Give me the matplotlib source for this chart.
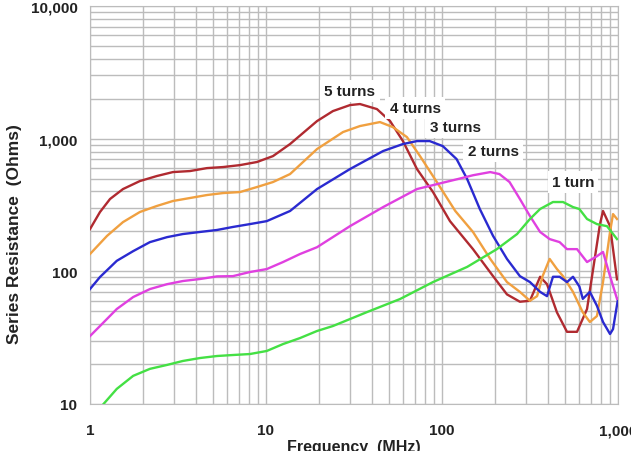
import matplotlib
matplotlib.use("Agg")
import matplotlib.pyplot as plt
from matplotlib.ticker import FixedLocator, FixedFormatter, NullFormatter, LogLocator

plt.rcParams['font.family'] = ['Liberation Sans', 'DejaVu Sans']
plt.rcParams['font.weight'] = 'bold'

# Frequency (MHz) / series resistance (Ohms)
f5 = [1, 1.14, 1.30, 1.54, 1.92, 2.40, 2.96, 3.70, 4.62, 5.70, 7.12, 8.89, 10.96, 13.7,
      19.5, 24.0, 30.0, 34.2, 42.7, 50.7, 60.0, 72.1, 88.9, 111, 150, 195, 234, 277, 316,
      361, 395, 450, 513, 585, 667, 790, 822, 901, 987]
r5 = [208, 280, 351, 417, 479, 523, 560, 570, 600, 611, 632, 667, 739, 911,
      1357, 1614, 1791, 1824, 1671, 1357, 959, 590, 396, 239, 147, 92, 67, 59, 60,
      91, 80, 49, 35, 35, 52, 227, 285, 219, 87]

f4 = [1, 1.25, 1.54, 1.92, 2.40, 2.96, 3.70, 4.62, 5.70, 7.12, 8.89, 10.96, 13.7, 19.5,
      27.4, 34.2, 44.4, 52.6, 63.2, 75.0, 93.5, 119, 150, 188, 234, 277, 316, 347, 373,
      409, 450, 487, 555, 631, 692, 759, 822, 901, 937, 987]
r4 = [135, 185, 235, 280, 311, 339, 357, 376, 389, 396, 432, 471, 541, 835,
      1122, 1245, 1334, 1222, 1028, 739, 471, 285, 198, 124, 83, 70, 60, 65, 92,
      124, 104, 92, 70, 49, 41.5, 46, 83, 198, 270, 248]

f3 = [1, 1.14, 1.42, 1.76, 2.19, 2.74, 3.37, 4.21, 5.27, 6.49, 8.10, 10.1, 13.7, 19.5,
      30.0, 46.3, 60.0, 72.1, 85.1, 101, 121, 139, 164, 195, 234, 277, 316, 361, 395,
      427, 466, 513, 555, 603, 631, 692, 759, 822, 901, 937, 1000]
r3 = [73.5, 90.6, 120, 142, 166, 181, 191, 198, 205, 216, 227, 239, 285, 417,
      590, 807, 911, 959, 959, 879, 702, 496, 295, 185, 124, 92, 83, 70, 65,
      91, 91, 83, 91, 77, 62, 70, 55, 41.5, 33.7, 36.7, 62]

f2 = [1, 1.14, 1.42, 1.76, 2.19, 2.74, 3.37, 4.21, 5.27, 6.49, 8.10, 10.1, 12.5, 15.6,
      19.5, 30.0, 46.3, 72.1, 104, 126, 150, 188, 212, 242, 277, 316, 361, 409, 466,
      513, 585, 667, 759, 822, 901, 987]
r2 = [32.5, 38.7, 52, 64, 73.5, 80, 84.5, 87.5, 91.6, 92, 98.8, 104, 117.5, 135,
      152, 219, 305, 417, 470, 500, 530, 560, 541, 471, 351, 261, 198, 175, 166,
      147, 147, 117.5, 130, 140, 92, 62]

f1 = [1.17, 1.42, 1.76, 2.19, 2.74, 3.37, 4.21, 5.27, 6.49, 8.10, 10.1, 12.5, 15.6, 19.5,
      24.0, 37.5, 57.7, 88.9, 139, 205, 267, 316, 361, 427, 487, 555, 603, 667, 759,
      866, 987]
r1 = [9.7, 13.0, 16.3, 18.4, 19.7, 21.1, 22.2, 23.0, 23.4, 23.8, 25.1, 28.3, 31.4, 35.5,
      38.7, 49.3, 61.8, 83, 108, 147, 191, 248, 295, 333, 333, 305, 295, 248, 227,
      219, 175]

series = [(f5, r5, '#b02a30'), (f4, r4, '#f0a040'), (f3, r3, '#2a2ad0'),
          (f2, r2, '#e040e0'), (f1, r1, '#44e044')]

labels = ['5 turns', '4 turns', '3 turns', '2 turns', '1 turn']
label_f = [30.0, 70.3, 118.6, 195, 555]
label_r = [2285, 1701, 1222, 807, 471]

x_ticks = [1, 10, 100, 1000]
x_ticklabels = ['1', '10', '100', '1,000']
y_ticks = [10, 100, 1000, 10000]
y_ticklabels = ['10', '100', '1,000', '10,000']

fig = plt.figure(figsize=(6.31, 4.52), dpi=100)
ax = fig.add_axes([0.1426, 0.104, 0.8368, 0.8805])

for f, r, c in series:
    ax.plot(f, r, color=c, lw=1.7, zorder=3)

for t, x, y in zip(labels, label_f, label_r):
    ax.text(x, y, t, ha='center', va='center', fontsize=11, fontweight='bold',
            color='#222222', zorder=4,
            bbox=dict(facecolor='white', edgecolor='none', pad=3))

ax.set_xscale('log')
ax.set_yscale('log')
ax.set_xlim(1, 1000)
ax.set_ylim(10, 10000)

ax.xaxis.set_major_locator(FixedLocator(x_ticks))
ax.xaxis.set_major_formatter(FixedFormatter(x_ticklabels))
ax.yaxis.set_major_locator(FixedLocator(y_ticks))
ax.yaxis.set_major_formatter(FixedFormatter(y_ticklabels))
ax.xaxis.set_minor_locator(LogLocator(base=10, subs=range(2, 10)))
ax.yaxis.set_minor_locator(LogLocator(base=10, subs=range(2, 10)))
ax.xaxis.set_minor_formatter(NullFormatter())
ax.yaxis.set_minor_formatter(NullFormatter())

ax.tick_params(which='both', length=0, labelsize=11, colors='#222222')
ax.tick_params(axis='x', pad=14)
ax.tick_params(axis='y', pad=9)

ax.set_axisbelow(True)
ax.grid(which='both', color='#bcbcbc', lw=1.0)
for s in ax.spines.values():
    s.set_color('#bcbcbc')

ax.set_xlabel('Frequency  (MHz)', fontsize=11.5, fontweight='bold', color='#222222', labelpad=1)
ax.set_ylabel('Series Resistance  (Ohms)', fontsize=12.5, fontweight='bold', color='#222222')
ax.yaxis.set_label_coords(-0.129, 0.43)

fig.savefig('out.png', dpi=100)
